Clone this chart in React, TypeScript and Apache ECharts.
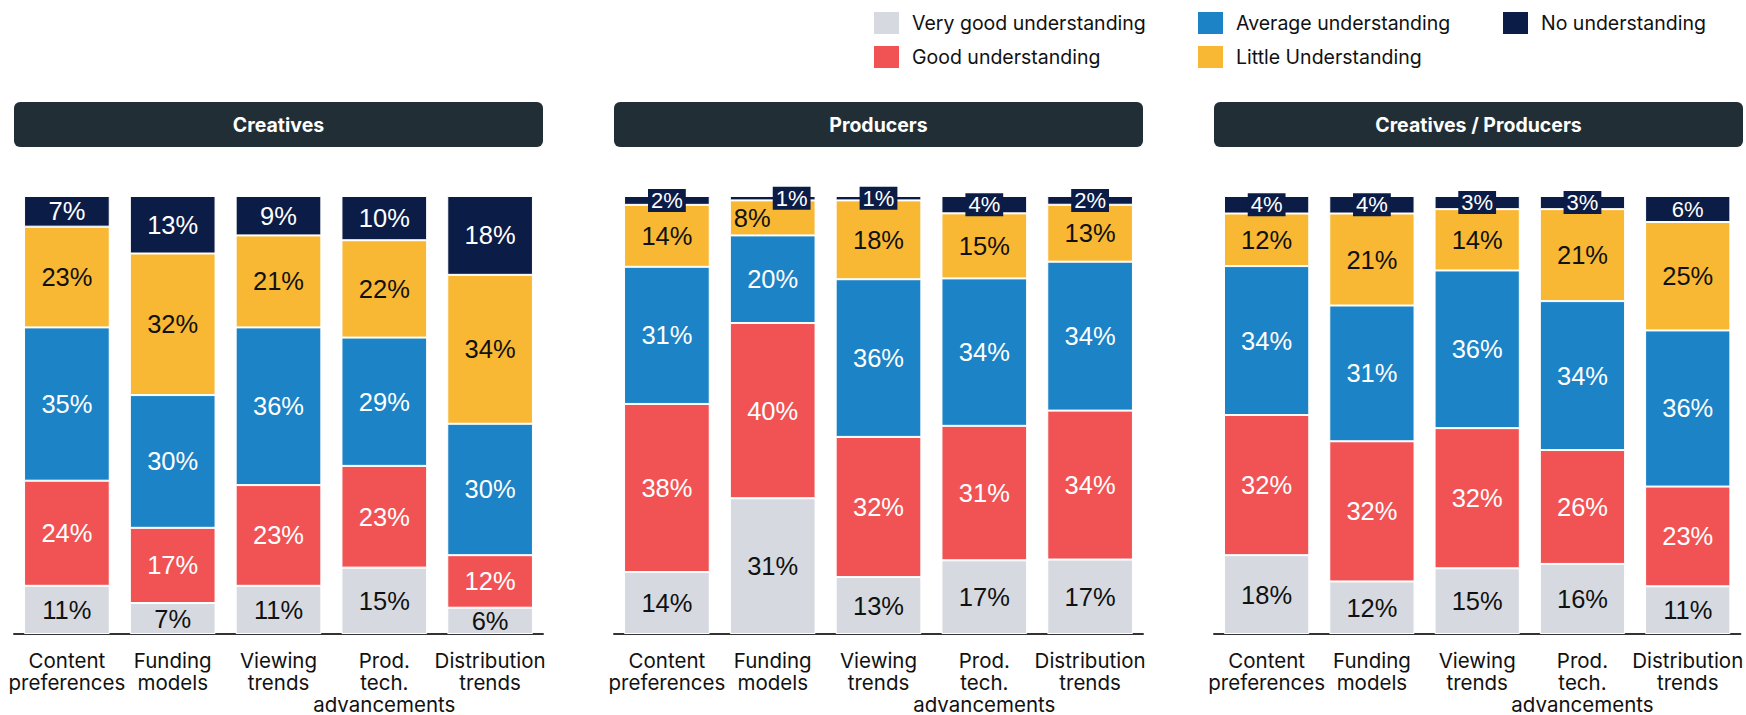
import React, { useEffect, useRef } from "react";
import * as echarts from "echarts";

const categories = [
  "Content\npreferences",
  "Funding\nmodels",
  "Viewing\ntrends",
  "Prod.\ntech.\nadvancements",
  "Distribution\ntrends",
];
const seriesNames = [
  "Very good understanding",
  "Good understanding",
  "Average understanding",
  "Little Understanding",
  "No understanding",
];
const panelTitles = ["Creatives", "Producers", "Creatives / Producers"];

// Creatives
const creativesVeryGood = [11, 7, 11, 15, 6];
const creativesGood = [24, 17, 23, 23, 12];
const creativesAverage = [35, 30, 36, 29, 30];
const creativesLittle = [23, 32, 21, 22, 34];
const creativesNone = [7, 13, 9, 10, 18];
// Producers
const producersVeryGood = [14, 31, 13, 17, 17];
const producersGood = [38, 40, 32, 31, 34];
const producersAverage = [31, 20, 36, 34, 34];
const producersLittle = [14, 8, 18, 15, 13];
const producersNone = [2, 1, 1, 4, 2];
// Creatives / Producers
const cpVeryGood = [18, 12, 15, 16, 11];
const cpGood = [32, 32, 32, 26, 23];
const cpAverage = [34, 31, 36, 34, 36];
const cpLittle = [12, 21, 14, 21, 25];
const cpNone = [4, 4, 3, 3, 6];

const panels = [
  [creativesVeryGood, creativesGood, creativesAverage, creativesLittle, creativesNone],
  [producersVeryGood, producersGood, producersAverage, producersLittle, producersNone],
  [cpVeryGood, cpGood, cpAverage, cpLittle, cpNone],
];

const colors = ["#d6dae0", "#f15355", "#1b83c6", "#f9b833", "#0b1c47"];
const labelColors = ["#111111", "#ffffff", "#ffffff", "#111111", "#ffffff"];

const gridLefts = [14, 614, 1214];
const gridWidth = 529;
const gridTop = 196;
const gridHeight = 441;
const headerFill = "#222e36";

function buildOption() {
  const grids = gridLefts.map((l) => ({ left: l, top: gridTop, width: gridWidth, height: gridHeight }));
  const xAxes = gridLefts.map((_, g) => ({
    type: "category",
    gridIndex: g,
    data: categories,
    axisLine: { lineStyle: { color: "#333333", width: 2 } },
    axisTick: { length: 8, lineStyle: { color: "#333333", width: 1.5 } },
    axisLabel: {
      interval: 0,
      fontFamily: "Inter, sans-serif",
      fontSize: 20.5,
      lineHeight: 22,
      color: "#111111",
      margin: 15,
    },
  }));
  const yAxes = gridLefts.map((_, g) => ({
    type: "value",
    gridIndex: g,
    min: 0,
    max: 100,
    show: false,
  }));

  const series: any[] = [];
  panels.forEach((panel, g) => {
    const totals = categories.map((_, i) => panel.reduce((s, arr) => s + arr[i], 0));
    panel.forEach((raw, k) => {
      const data = raw.map((v, i) => {
        const item: any = { value: (v / totals[i]) * 100 };
        if (g === 1 && i === 1 && k === 3) item.label = { position: "insideLeft", distance: 4 };
        if (g === 1 && i === 1 && k === 4) item.label = { position: "insideRight", distance: 5 };
        return item;
      });
      const boxed = k === 4 && g >= 1;
      series.push({
        type: "bar",
        name: seriesNames[k],
        stack: "s" + g,
        xAxisIndex: g,
        yAxisIndex: g,
        barCategoryGap: "19%",
        itemStyle: { color: colors[k], borderColor: "#ffffff", borderWidth: 1 },
        label: {
          show: true,
          position: "inside",
          fontFamily: "'Liberation Sans', Arial, sans-serif",
          fontSize: boxed ? 22 : 25.5,
          color: labelColors[k],
          backgroundColor: boxed ? colors[4] : "transparent",
          padding: boxed ? [1, 3, 0, 3] : 0,
          formatter: (p: any) => raw[p.dataIndex] + "%",
        },
        data,
      });
    });
  });

  const legendCommon = {
    orient: "vertical",
    top: 5,
    icon: "rect",
    itemWidth: 27,
    itemHeight: 24,
    itemGap: 8,
    selectedMode: false,
    textStyle: {
      fontFamily: "Inter, sans-serif",
      fontSize: 19.5,
      color: "#111111",
      padding: [0, 0, 0, 7],
    },
  };
  const legend = [
    { ...legendCommon, left: 867, data: [seriesNames[0], seriesNames[1]] },
    { ...legendCommon, left: 1191, data: [seriesNames[2], seriesNames[3]] },
    { ...legendCommon, left: 1496, data: [seriesNames[4]] },
  ];

  const graphic: any[] = [];
  gridLefts.forEach((l, g) => {
    graphic.push({
      type: "rect",
      left: l,
      top: 102,
      shape: { width: gridWidth, height: 45, r: 6 },
      style: { fill: headerFill },
    });
    graphic.push({
      type: "text",
      x: l + gridWidth / 2,
      y: 124.5,
      style: {
        text: panelTitles[g],
        fill: "#ffffff",
        font: "bold 19.5px Inter, sans-serif",
        align: "center",
        verticalAlign: "middle",
        textAlign: "center",
        textVerticalAlign: "middle",
      },
    });
  });

  return {
    animation: false,
    backgroundColor: "#ffffff",
    grid: grids,
    xAxis: xAxes,
    yAxis: yAxes,
    legend,
    series,
    graphic,
  };
}

export default function App() {
  const ref = useRef<HTMLDivElement>(null);
  useEffect(() => {
    document.body.style.margin = "0";
    const chart = echarts.init(ref.current!, null, { renderer: "svg" });
    chart.setOption(buildOption() as any);
    return () => chart.dispose();
  }, []);
  return <div ref={ref} style={{ width: 1746, height: 715 }} />;
}
